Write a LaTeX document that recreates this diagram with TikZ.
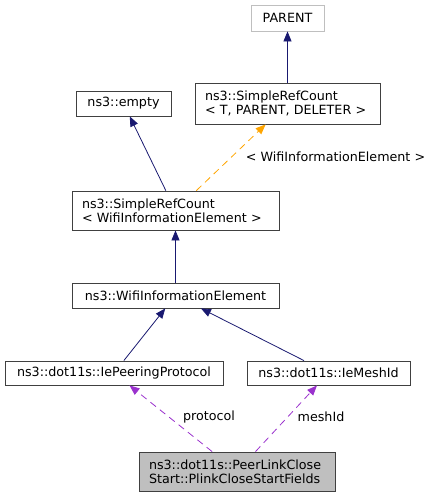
\documentclass[tikz,border=0pt]{standalone}
\usepackage{fontspec}
\setmainfont{DejaVu Sans}
\usetikzlibrary{arrows.meta}
\definecolor{edgeblue}{HTML}{191970}
\definecolor{edgeorange}{HTML}{FFA500}
\definecolor{edgepurple}{HTML}{9A32CD}
\definecolor{boxgray}{HTML}{BFBFBF}
\tikzset{
    cls/.style={draw=black!75, line width=0.8pt, inner sep=0pt, font=\fontsize{12.7}{14.4}\selectfont},
    clsleft/.style={cls, align=left, inner xsep=10pt},
    inherit/.style={draw=edgeblue, line width=0.8pt, -{Triangle[length=10pt,width=8pt]}},
    tmpl/.style={draw=edgeorange, line width=0.8pt, dash pattern=on 7pt off 5pt, -{Triangle[length=10pt,width=8pt]}},
    usage/.style={draw=edgepurple, line width=0.8pt, dash pattern=on 7pt off 5pt, -{Triangle[length=10pt,width=8pt]}},
    lbl/.style={font=\fontsize{12.7}{14}\selectfont, inner sep=0pt}
}
\begin{document}
\begin{tikzpicture}[x=1pt, y=-1pt]
    \useasboundingbox (0,0) rectangle (433,499);
    \coordinate (p) at (287.5, 18);
    \coordinate (t) at (287.5, 103.5);
    \coordinate (e) at (123.5, 103.5);
    \coordinate (s) at (175.5, 210.5);
    \coordinate (w) at (175.5, 295.5);
    \coordinate (pp) at (114, 373);
    \coordinate (mi) at (328.5, 373);
    \coordinate (f) at (237, 471.5);
    \node[cls, draw=boxgray, minimum width=73pt, minimum height=26pt] (parent) at (p) {PARENT};
    \node[clsleft, text width=165pt, minimum height=41pt] (srct) at (t) {ns3::SimpleRefCount\\< T, PARENT, DELETER >};
    \node[cls, minimum width=95pt, minimum height=25pt] (empty) at (e) {ns3::empty};
    \node[clsleft, text width=187pt, minimum height=39pt] (srcw) at (s) {ns3::SimpleRefCount\\< WifiInformationElement >};
    \node[cls, minimum width=207pt, minimum height=25pt] (wie) at (w) {ns3::WifiInformationElement};
    \node[cls, minimum width=218pt, minimum height=24pt] (peer) at (pp) {ns3::dot11s::IePeeringProtocol};
    \node[cls, minimum width=163pt, minimum height=24pt] (mesh) at (mi) {ns3::dot11s::IeMeshId};
    \node[clsleft, fill=boxgray, text width=176pt, minimum height=39pt] (fields) at (f) {ns3::dot11s::PeerLinkClose\\Start::PlinkCloseStartFields};
    % inheritance
    \draw[inherit] (srct) -- (parent);
    \draw[inherit] (srcw) -- (empty);
    \draw[inherit] (wie) -- (srcw);
    \draw[inherit] (peer) -- (wie);
    \draw[inherit] (mesh) -- (wie);
    % template and members
    \draw[tmpl] (srcw) -- (srct);
    \draw[usage] (fields) -- (peer);
    \draw[usage] (fields) -- (mesh);
    \node[lbl] (tl) at (335.5, 157) {< WifiInformationElement >};
    \node[lbl] (ul) at (209, 417) {protocol};
    \node[lbl] (ml) at (321, 417) {meshId};
\end{tikzpicture}
\end{document}
